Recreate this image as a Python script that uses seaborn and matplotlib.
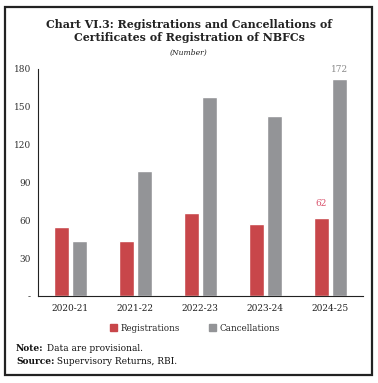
import pandas as pd
import seaborn as sns
import matplotlib.pyplot as plt
from matplotlib.patches import Rectangle

# data
years = ['2020-21', '2021-22', '2022-23', '2023-24', '2024-25']
registrations = [55, 44, 66, 57, 62]
cancellations = [44, 99, 158, 143, 172]
y_ticks = [0, 30, 60, 90, 120, 150, 180]
y_tick_labels = ['-', '30', '60', '90', '120', '150', '180']

red = '#C8464A'
grey = '#939497'

df = pd.DataFrame({
    'year': years * 2,
    'value': registrations + cancellations,
    'series': ['Registrations'] * len(years) + ['Cancellations'] * len(years),
})

sns.set_style('white')
plt.rcParams['font.family'] = ['DejaVu Serif']

fig = plt.figure(figsize=(3.78, 3.83), dpi=100)
ax = fig.add_axes([0.1005, 0.227, 0.859, 0.593])

sns.barplot(data=df, x='year', y='value', hue='series', palette=[red, grey],
            width=0.55, gap=0.16, saturation=1, ax=ax, legend=False)

ax.set_ylim(0, 180)
ax.set_xlim(-0.5, len(years) - 0.5)
ax.set_yticks(y_ticks)
ax.set_yticklabels(y_tick_labels, fontsize=6.5, color='#333333')
ax.set_xticks(range(len(years)))
ax.set_xticklabels(years, fontsize=6.5, color='#222222')
ax.set_xticks([i - 0.5 for i in range(len(years) + 1)], minor=True)
ax.tick_params(axis='x', which='major', length=0, pad=6)
ax.tick_params(axis='x', which='minor', length=4, width=0.8, direction='out', color='#222222')
ax.tick_params(axis='y', length=3, width=0.8, direction='out', color='#222222', pad=2)
ax.set_xlabel('')
ax.set_ylabel('')
for side in ['top', 'right']:
    ax.spines[side].set_visible(False)
for side in ['left', 'bottom']:
    ax.spines[side].set_color('#222222')
    ax.spines[side].set_linewidth(0.8)

# data labels on last category
bars_reg = ax.containers[0]
bars_can = ax.containers[1]
b = bars_reg[len(years) - 1]
ax.text(b.get_x() + b.get_width() / 2, registrations[-1] + 8, str(registrations[-1]),
        ha='center', va='bottom', fontsize=6.5, color='#D9506A')
b = bars_can[len(years) - 1]
ax.text(b.get_x() + b.get_width() / 2, cancellations[-1] + 4, str(cancellations[-1]),
        ha='center', va='bottom', fontsize=6.5, color='#8A8A8A')

# title
fig.text(0.5, 0.937, 'Chart VI.3: Registrations and Cancellations of',
         ha='center', va='center', fontsize=7.9, fontweight='bold', color='#222222')
fig.text(0.5, 0.902, 'Certificates of Registration of NBFCs',
         ha='center', va='center', fontsize=7.9, fontweight='bold', color='#222222')
fig.text(0.5, 0.862, '(Number)', ha='center', va='center', fontsize=5.5,
         style='italic', color='#222222')

# legend
handles = [Rectangle((0, 0), 1, 1, color=red), Rectangle((0, 0), 1, 1, color=grey)]
fig.legend(handles, ['Registrations', 'Cancellations'], loc='center',
           bbox_to_anchor=(0.515, 0.143), ncol=2, frameon=False, fontsize=6.3,
           handlelength=0.8, handleheight=0.8, handletextpad=0.4, columnspacing=3.3)

# note and source
fig.canvas.draw()
renderer = fig.canvas.get_renderer()
for y, bold, rest in [(0.091, 'Note:', ' Data are provisional.'),
                      (0.057, 'Source:', ' Supervisory Returns, RBI.')]:
    t = fig.text(0.042, y, bold, fontsize=6.5, fontweight='bold', va='center', color='#111111')
    bb = t.get_window_extent(renderer=renderer)
    x2 = bb.x1 / fig.bbox.width
    fig.text(x2, y, rest, fontsize=6.5, va='center', color='#111111')

# frame
fig.patches.append(Rectangle((0.013, 0.02), 0.972, 0.962, transform=fig.transFigure,
                             fill=False, edgecolor='#222222', linewidth=1.6))

fig.savefig('out.png', dpi=100)
